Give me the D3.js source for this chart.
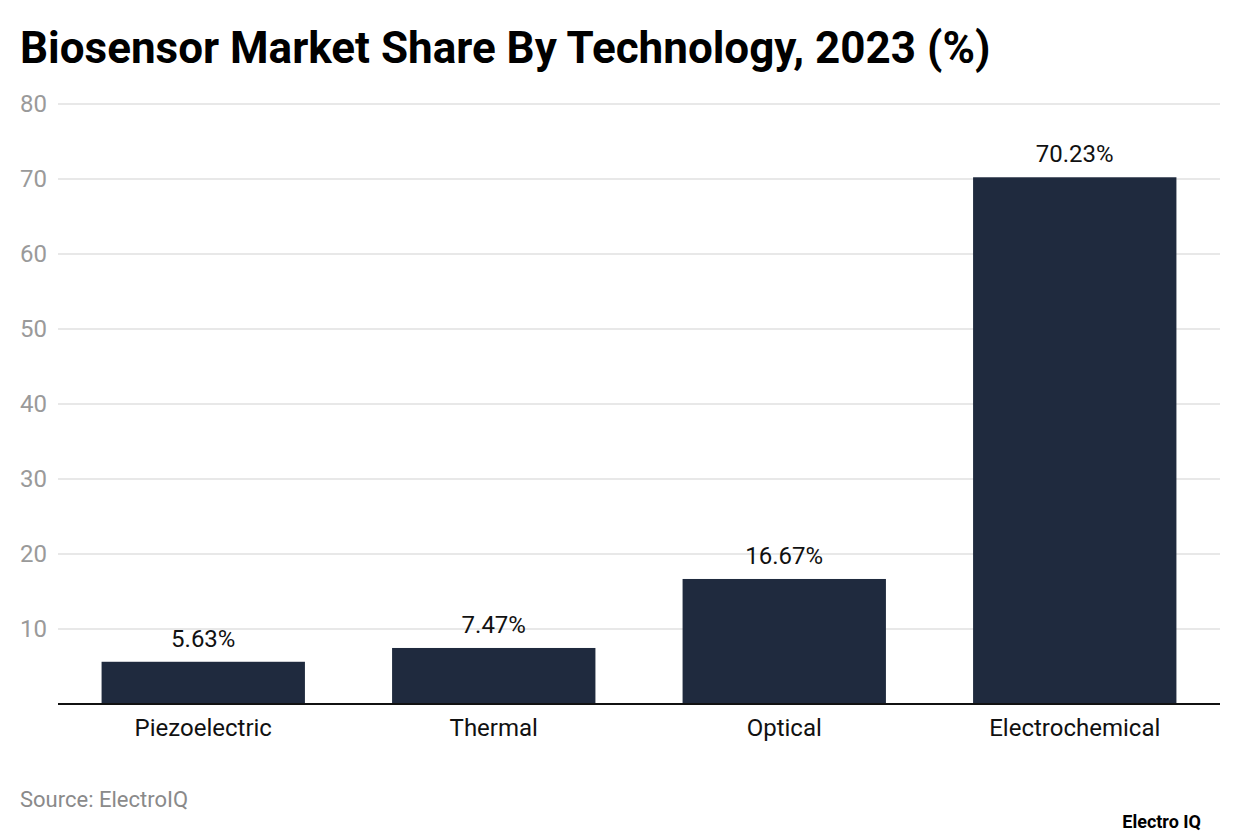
<!DOCTYPE html>
<html><head><meta charset="utf-8">
<script src="https://cdn.jsdelivr.net/npm/d3@7"></script>
<style>body{margin:0;background:#fff;font-family:Roboto,"Noto Sans",sans-serif;}</style>
</head><body>
<svg id="c" width="1240" height="834"></svg>
<script>
const categories = ["Piezoelectric","Thermal","Optical","Electrochemical"];
const values = [5.63, 7.47, 16.67, 70.23];
const valueLabels = ["5.63%","7.47%","16.67%","70.23%"];
const yTicks = [10,20,30,40,50,60,70,80];
const title = "Biosensor Market Share By Technology, 2023 (%)";
const source = "Source: ElectroIQ";
const brand = "Electro IQ";

const svg = d3.select("#c");
const L = 58, R = 1220, T = 104, B = 704;
const x = d3.scaleBand().domain(categories).range([L, R]).paddingInner(0.3).paddingOuter(0.15);
const y = d3.scaleLinear().domain([0, 80]).range([B, T]);

svg.append("text").attr("x", 20).attr("y", 63).attr("font-size", 44).attr("font-weight", 700)
  .attr("fill", "#000").text(title);

const g = svg.append("g");
g.selectAll("line.grid").data(yTicks).join("line").attr("class","grid")
  .attr("x1", L).attr("x2", R).attr("y1", d => y(d)).attr("y2", d => y(d))
  .attr("stroke", "#e1e1e1").attr("stroke-width", 1.5);
g.selectAll("text.tick").data(yTicks).join("text").attr("class","tick")
  .attr("x", 20).attr("y", d => y(d)).attr("dy", "0.35em")
  .attr("font-size", 24).attr("fill", "#9a9a9a").text(d => d);

g.selectAll("rect").data(values).join("rect")
  .attr("x", (d,i) => x(categories[i])).attr("width", x.bandwidth())
  .attr("y", d => y(d)).attr("height", d => B - y(d)).attr("fill", "#1f2a3e");

g.selectAll("text.val").data(values).join("text").attr("class","val")
  .attr("x", (d,i) => x(categories[i]) + x.bandwidth()/2).attr("y", d => y(d) - 15)
  .attr("text-anchor", "middle").attr("font-size", 24).attr("fill", "#111")
  .text((d,i) => valueLabels[i]);

g.append("line").attr("x1", L).attr("x2", R).attr("y1", B).attr("y2", B)
  .attr("stroke", "#111").attr("stroke-width", 2);

g.selectAll("text.cat").data(categories).join("text").attr("class","cat")
  .attr("x", d => x(d) + x.bandwidth()/2).attr("y", 736)
  .attr("text-anchor", "middle").attr("font-size", 24).attr("fill", "#111").text(d => d);

svg.append("text").attr("x", 20).attr("y", 807).attr("font-size", 22).attr("fill", "#8a8a8a").text(source);
svg.append("text").attr("x", 1201).attr("y", 828).attr("text-anchor", "end").attr("font-size", 18)
  .attr("font-weight", 700).attr("fill", "#000").text(brand);
</script>
</body></html>
